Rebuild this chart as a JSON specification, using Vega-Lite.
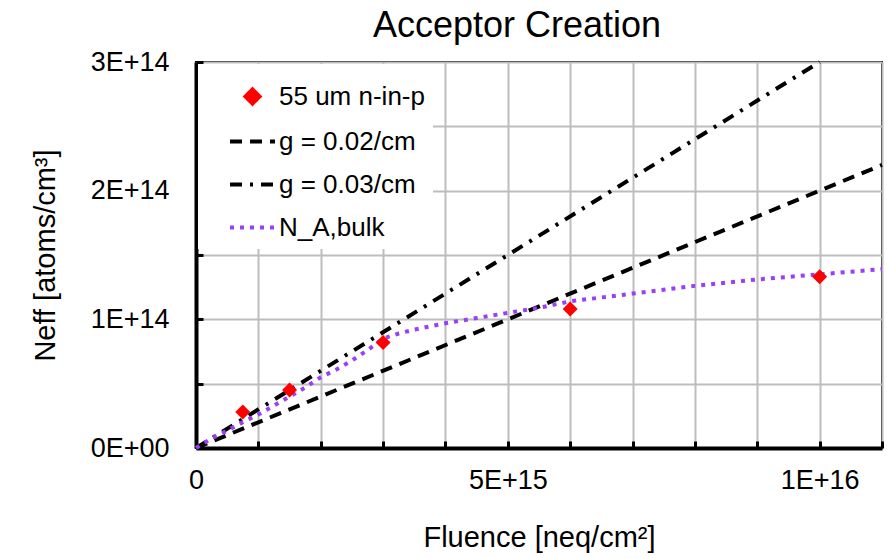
{
  "$schema": "https://vega.github.io/schema/vega-lite/v6.json",
  "autosize": {"type": "none"},
  "padding": {"left": 196, "top": 62, "right": 5, "bottom": 110},
  "width": 686,
  "height": 386,
  "background": "white",
  "config": {
    "font": "Liberation Sans",
    "view": {"stroke": "#000000", "strokeWidth": 2},
    "axis": {
      "domainColor": "#000000", "domainWidth": 4,
      "tickColor": "#000000", "tickWidth": 3, "tickSize": -7,
      "gridColor": "#bdbdbd", "gridWidth": 2, "gridOpacity": 1,
      "labelFont": "Liberation Sans", "labelFontSize": 27, "labelColor": "#000000",
      "titleFont": "Liberation Sans", "titleFontSize": 29, "titleFontWeight": "normal", "titleColor": "#000000",
      "labelOverlap": false, "labelBound": false, "labelFlush": false
    }
  },
  "title": {
    "text": "Acceptor Creation",
    "fontSize": 36, "font": "Liberation Sans", "fontWeight": "normal", "color": "#000000",
    "anchor": "middle", "dx": -22, "offset": 3
  },
  "datasets": {
    "measured": [
      {"series": "55 um n-in-p", "fluence": 750000000000000, "neff": 28000000000000},
      {"series": "55 um n-in-p", "fluence": 1500000000000000, "neff": 45000000000000},
      {"series": "55 um n-in-p", "fluence": 3000000000000000, "neff": 82000000000000},
      {"series": "55 um n-in-p", "fluence": 6000000000000000, "neff": 108000000000000},
      {"series": "55 um n-in-p", "fluence": 10000000000000000, "neff": 133000000000000}
    ],
    "curves": [
      {"series": "g = 0.02/cm", "fluence": 0, "neff": 0},
      {"series": "g = 0.02/cm", "fluence": 11000000000000000, "neff": 220000000000000},
      {"series": "g = 0.03/cm", "fluence": 0, "neff": 0},
      {"series": "g = 0.03/cm", "fluence": 10000000000000000, "neff": 300000000000000},
      {"series": "N_A,bulk", "fluence": 0, "neff": 0},
      {"series": "N_A,bulk", "fluence": 250000000000000, "neff": 7500000000000},
      {"series": "N_A,bulk", "fluence": 500000000000000, "neff": 13500000000000},
      {"series": "N_A,bulk", "fluence": 750000000000000, "neff": 20000000000000},
      {"series": "N_A,bulk", "fluence": 1000000000000000, "neff": 26000000000000},
      {"series": "N_A,bulk", "fluence": 1250000000000000, "neff": 33000000000000},
      {"series": "N_A,bulk", "fluence": 1500000000000000, "neff": 40000000000000},
      {"series": "N_A,bulk", "fluence": 1750000000000000, "neff": 47000000000000},
      {"series": "N_A,bulk", "fluence": 2000000000000000, "neff": 55000000000000},
      {"series": "N_A,bulk", "fluence": 2250000000000000, "neff": 61000000000000},
      {"series": "N_A,bulk", "fluence": 2500000000000000, "neff": 68000000000000},
      {"series": "N_A,bulk", "fluence": 2750000000000000, "neff": 76000000000000},
      {"series": "N_A,bulk", "fluence": 3000000000000000, "neff": 85000000000000},
      {"series": "N_A,bulk", "fluence": 3250000000000000, "neff": 89000000000000},
      {"series": "N_A,bulk", "fluence": 3500000000000000, "neff": 92000000000000},
      {"series": "N_A,bulk", "fluence": 4000000000000000, "neff": 97000000000000},
      {"series": "N_A,bulk", "fluence": 4500000000000000, "neff": 101000000000000},
      {"series": "N_A,bulk", "fluence": 5000000000000000, "neff": 105000000000000},
      {"series": "N_A,bulk", "fluence": 5500000000000000, "neff": 109000000000000},
      {"series": "N_A,bulk", "fluence": 6000000000000000, "neff": 114000000000000},
      {"series": "N_A,bulk", "fluence": 7000000000000000, "neff": 120000000000000},
      {"series": "N_A,bulk", "fluence": 8000000000000000, "neff": 126000000000000},
      {"series": "N_A,bulk", "fluence": 9000000000000000, "neff": 131000000000000},
      {"series": "N_A,bulk", "fluence": 10000000000000000, "neff": 135000000000000},
      {"series": "N_A,bulk", "fluence": 11000000000000000, "neff": 139000000000000}
    ]
  },
  "encoding": {
    "x": {
      "field": "fluence", "type": "quantitative",
      "scale": {"domain": [0, 11000000000000000], "nice": false, "zero": true},
      "axis": {
        "title": "Fluence [neq/cm²]",
        "values": [0, 1000000000000000, 2000000000000000, 3000000000000000, 4000000000000000, 5000000000000000, 6000000000000000, 7000000000000000, 8000000000000000, 9000000000000000, 10000000000000000, 11000000000000000],
        "labelExpr": "datum.value == 0 ? '0' : (datum.value == 5000000000000000 ? '5E+15' : (datum.value == 10000000000000000 ? '1E+16' : ''))",
        "labelPadding": 26, "titlePadding": 30
      }
    },
    "y": {
      "field": "neff", "type": "quantitative",
      "scale": {"domain": [0, 300000000000000], "nice": false, "zero": true},
      "axis": {
        "title": "Neff [atoms/cm³]",
        "values": [0, 50000000000000, 100000000000000, 150000000000000, 200000000000000, 250000000000000, 300000000000000],
        "labelExpr": "datum.value == 0 ? '0E+00' : (datum.value % 100000000000000 == 0 ? (datum.value / 100000000000000) + 'E+14' : '')",
        "labelPadding": 34, "titlePadding": 30
      }
    }
  },
  "layer": [
    {
      "data": {"name": "curves"},
      "mark": {"type": "line", "strokeWidth": 4, "strokeCap": "butt"},
      "encoding": {
        "color": {
          "field": "series", "type": "nominal",
          "scale": {"domain": ["55 um n-in-p", "g = 0.02/cm", "g = 0.03/cm", "N_A,bulk"], "range": ["#ff0000", "#000000", "#000000", "#9a3ff8"]},
          "legend": {
            "title": null, "orient": "top-left", "offset": 2, "fillColor": "white", "padding": 8,
            "symbolSize": 2025, "symbolStrokeWidth": 4, "symbolOffset": 22,
            "labelFontSize": 26, "labelFont": "Liberation Sans", "labelColor": "#000000", "labelOffset": 2, "labelLimit": 300, "rowPadding": 5,
            "encode": {"symbols": {"update": {
              "size": {"signal": "datum.value === '55 um n-in-p' ? 200 : 2025"},
              "fill": {"signal": "datum.value === '55 um n-in-p' ? '#ff0000' : 'transparent'"}
            }}}
          }
        },
        "strokeDash": {
          "field": "series", "type": "nominal",
          "scale": {"domain": ["55 um n-in-p", "g = 0.02/cm", "g = 0.03/cm", "N_A,bulk"], "range": [[1, 0], [12, 8], [12, 8, 3, 8], [4, 6]]}
        },
        "order": {"field": "fluence", "type": "quantitative"}
      }
    },
    {
      "data": {"name": "measured"},
      "mark": {"type": "point", "filled": true, "opacity": 1, "size": 225},
      "encoding": {
        "color": {"field": "series", "type": "nominal"},
        "shape": {
          "field": "series", "type": "nominal",
          "scale": {"domain": ["55 um n-in-p", "g = 0.02/cm", "g = 0.03/cm", "N_A,bulk"], "range": ["diamond", "stroke", "stroke", "stroke"]}
        }
      }
    }
  ]
}
